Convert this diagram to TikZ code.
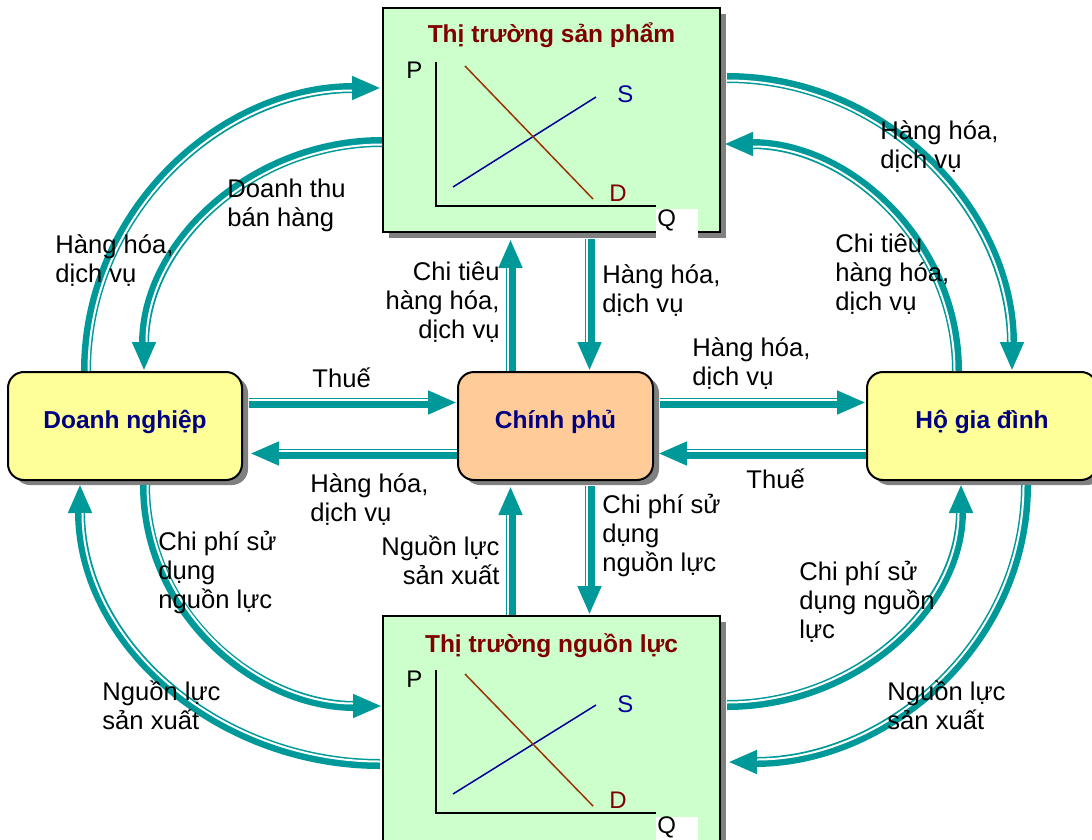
\documentclass[tikz,border=0pt]{standalone}
\usepackage{fontspec}
\setmainfont{Liberation Sans}
\usetikzlibrary{arrows.meta,calc,shadows}
\definecolor{flowc}{RGB}{0,153,153}
\definecolor{greenbox}{RGB}{204,255,204}
\definecolor{yellowbox}{RGB}{255,255,153}
\definecolor{peachbox}{RGB}{255,204,153}
\definecolor{titlered}{RGB}{128,0,0}
\definecolor{navytext}{RGB}{0,0,128}
\definecolor{sline}{RGB}{0,0,153}
\definecolor{dline}{RGB}{153,51,0}
\definecolor{shadowc}{RGB}{128,128,128}
\begin{document}
\begin{tikzpicture}[x=0.5pt,y=-0.5pt,
  flow/.style={draw=flowc, line width=5pt, -{Triangle[length=14.5pt,width=11pt]}},
  stripe/.style={draw=white, line width=1pt, shorten >=14.5pt},
  mktbox/.style={draw=black, line width=1pt, fill=greenbox, minimum width=168.5pt, inner sep=0pt,
    general shadow={fill=shadowc, shadow xshift=3pt, shadow yshift=-3pt}},
  agent/.style={draw=black, line width=1pt, rounded corners=8pt, minimum height=54pt, inner sep=0pt,
    text height=2pt, text depth=0pt, font=\bfseries\fontsize{12.25pt}{14pt}\selectfont, text=navytext,
    general shadow={fill=shadowc, shadow xshift=3pt, shadow yshift=-2.5pt}},
  mkttitle/.style={font=\bfseries\fontsize{12.25pt}{14pt}\selectfont, text=titlered, anchor=base, inner sep=0pt},
  lbl/.style={font=\fontsize{12.8pt}{14.5pt}\selectfont, inner sep=0pt, align=left, anchor=base west},
  rlbl/.style={font=\fontsize{12.8pt}{14.5pt}\selectfont, inner sep=0pt, align=right, anchor=base east},
  axlbl/.style={font=\fontsize{12pt}{14pt}\selectfont, inner sep=0pt, anchor=base west},
  axisline/.style={draw=black, line width=0.8pt},
]
\useasboundingbox (0,0) rectangle (1092,840);

% ---------- boxes ----------
\node[mktbox, minimum height=112pt] (tb) at (551.5,120) {};
\node[mktbox, minimum height=120pt] (bb) at (551.5,736) {};
\node[agent, fill=yellowbox, minimum width=117pt] (dn) at (125,426) {Doanh nghiệp};
\node[agent, fill=peachbox, minimum width=97.5pt] (cp) at (555.5,426) {Chính phủ};
\node[agent, fill=yellowbox, minimum width=115pt] (hh) at (982,426) {Hộ gia đình};

% ---------- product market contents ----------
\node[mkttitle] (tbT) at (551.5,43) {Thị trường sản phẩm};
\fill[white] (656,209) rectangle (698,240);
\draw[axisline] (436,62) -- (436,206) -- (656,206);
\draw[draw=sline, line width=0.75pt] (453,187) -- (596,97);
\draw[draw=dline, line width=0.75pt] (465,66) -- (593,199);
\node[axlbl] (tbP) at (406,79) {P};
\node[axlbl] (tbQ) at (657,226) {Q};
\node[axlbl, text=sline] (tbS) at (617,103) {S};
\node[axlbl, text=titlered] (tbD) at (609,201) {D};

% ---------- resource market contents ----------
\node[mkttitle] (bbT) at (551.5,652) {Thị trường nguồn lực};
\fill[white] (656,817) rectangle (698,845);
\draw[axisline] (436,670) -- (436,813) -- (656,813);
\draw[draw=sline, line width=0.75pt] (453,794) -- (596,705);
\draw[draw=dline, line width=0.75pt] (465,674) -- (593,806);
\node[axlbl] (bbP) at (406,687) {P};
\node[axlbl] (bbQ) at (657,833) {Q};
\node[axlbl, text=sline] (bbS) at (617,712) {S};
\node[axlbl, text=titlered] (bbD) at (609,808) {D};

% ---------- straight flows ----------
\draw[flow] ($(dn.east)+(6,-23.5)$) -- ($(cp.west)+(0,-23.5)$);
\draw[stripe] ($(dn.east)+(6,-26)$) -- ($(cp.west)+(0,-26)$);
\draw[flow] ($(cp.west)+(0,27.5)$) -- ($(dn.east)+(7,27.5)$);
\draw[stripe] ($(cp.west)+(0,25)$) -- ($(dn.east)+(7,25)$);
\draw[flow] ($(cp.east)+(6,-23.5)$) -- ($(hh.west)+(0,-23.5)$);
\draw[stripe] ($(cp.east)+(6,-26)$) -- ($(hh.west)+(0,-26)$);
\draw[flow] ($(hh.west)+(0,27.5)$) -- ($(cp.east)+(4,27.5)$);
\draw[stripe] ($(hh.west)+(0,25)$) -- ($(cp.east)+(4,25)$);

\draw[flow] ($(cp.north)+(-45,0)$) -- ($(tb.south)+(-41,6)$);
\draw[stripe] ($(cp.north)+(-47.5,0)$) -- ($(tb.south)+(-43.5,6)$);
\draw[flow] ($(tb.south)+(38,6)$) -- ($(cp.north)+(34,0)$);
\draw[stripe] ($(tb.south)+(35.5,6)$) -- ($(cp.north)+(31.5,0)$);
\draw[flow] ($(bb.north)+(-41,0)$) -- ($(cp.south)+(-45,5)$);
\draw[stripe] ($(bb.north)+(-43.5,0)$) -- ($(cp.south)+(-47.5,5)$);
\draw[flow] ($(cp.south)+(34,5)$) -- ($(bb.north)+(38,0)$);
\draw[stripe] ($(cp.south)+(31.5,5)$) -- ($(bb.north)+(35.5,0)$);

% ---------- curved flows ----------
\draw[flow] ($(dn.north west)+(79,0)$) to[out=90,in=180] ($(tb.north west)+(-1,81)$);
\draw[stripe] ($(dn.north west)+(81.5,0)$) to[out=90,in=180] ($(tb.north west)+(-1,83.5)$);
\draw[flow] ($(tb.north west)+(0,135)$) to[out=180,in=90] ($(dn.north west)+(137,0)$);
\draw[stripe] ($(tb.north west)+(0,137.5)$) to[out=180,in=90] ($(dn.north west)+(139.5,0)$);
\draw[flow] ($(tb.north east)+(6,71)$) to[out=0,in=90] ($(hh.north west)+(146,0)$);
\draw[stripe] ($(tb.north east)+(6,73.5)$) to[out=0,in=90] ($(hh.north west)+(143.5,0)$);
\draw[flow] ($(hh.north west)+(91,0)$) to[out=90,in=0] ($(tb.north east)+(3,137)$);
\draw[stripe] ($(hh.north west)+(88.5,0)$) to[out=90,in=0] ($(tb.north east)+(3,139.5)$);
\draw[flow] ($(dn.south west)+(138,4)$) to[out=270,in=180] ($(bb.north west)+(0,91)$);
\draw[stripe] ($(dn.south west)+(140.5,4)$) to[out=270,in=180] ($(bb.north west)+(0,88.5)$);
\draw[flow] ($(bb.north west)+(-2,149)$) to[out=180,in=270] ($(dn.south west)+(73,3)$);
\draw[stripe] ($(bb.north west)+(-2,146.5)$) to[out=180,in=270] ($(dn.south west)+(75.5,3)$);
\draw[flow] ($(bb.north east)+(6,90)$) to[out=0,in=270] ($(hh.south west)+(95,3)$);
\draw[stripe] ($(bb.north east)+(6,87.5)$) to[out=0,in=270] ($(hh.south west)+(92.5,3)$);
\draw[flow] ($(hh.south west)+(160,4)$) to[out=270,in=0] ($(bb.north east)+(7,147)$);
\draw[stripe] ($(hh.south west)+(157.5,4)$) to[out=270,in=0] ($(bb.north east)+(7,144.5)$);

% ---------- labels (anchor = baseline of the last line) ----------
\node[lbl] (l1) at (312,387) {Thuế};
\node[lbl] (l2) at (310,521) {Hàng hóa,\\dịch vụ};
\node[lbl] (l3) at (692,385) {Hàng hóa,\\dịch vụ};
\node[lbl] (l4) at (746,488) {Thuế};
\node[rlbl] (l5) at (500,338) {Chi tiêu\\hàng hóa,\\dịch vụ};
\node[lbl] (l6) at (602,312) {Hàng hóa,\\dịch vụ};
\node[rlbl] (l7) at (500,584) {Nguồn lực\\sản xuất};
\node[lbl] (l8) at (602,571) {Chi phí sử\\dụng\\nguồn lực};
\node[lbl] (l9) at (227,226) {Doanh thu\\bán hàng};
\node[lbl] (l10) at (55,282) {Hàng hóa,\\dịch vụ};
\node[lbl] (l11) at (880,169) {Hàng hóa,\\dịch vụ};
\node[lbl] (l12) at (835,310) {Chi tiêu\\hàng hóa,\\dịch vụ};
\node[lbl] (l13) at (158,608) {Chi phí sử\\dụng\\nguồn lực};
\node[lbl] (l14) at (102,729) {Nguồn lực\\sản xuất};
\node[lbl] (l15) at (799,638) {Chi phí sử\\dụng nguồn\\lực};
\node[lbl] (l16) at (887,729) {Nguồn lực\\sản xuất};
\end{tikzpicture}
\end{document}
